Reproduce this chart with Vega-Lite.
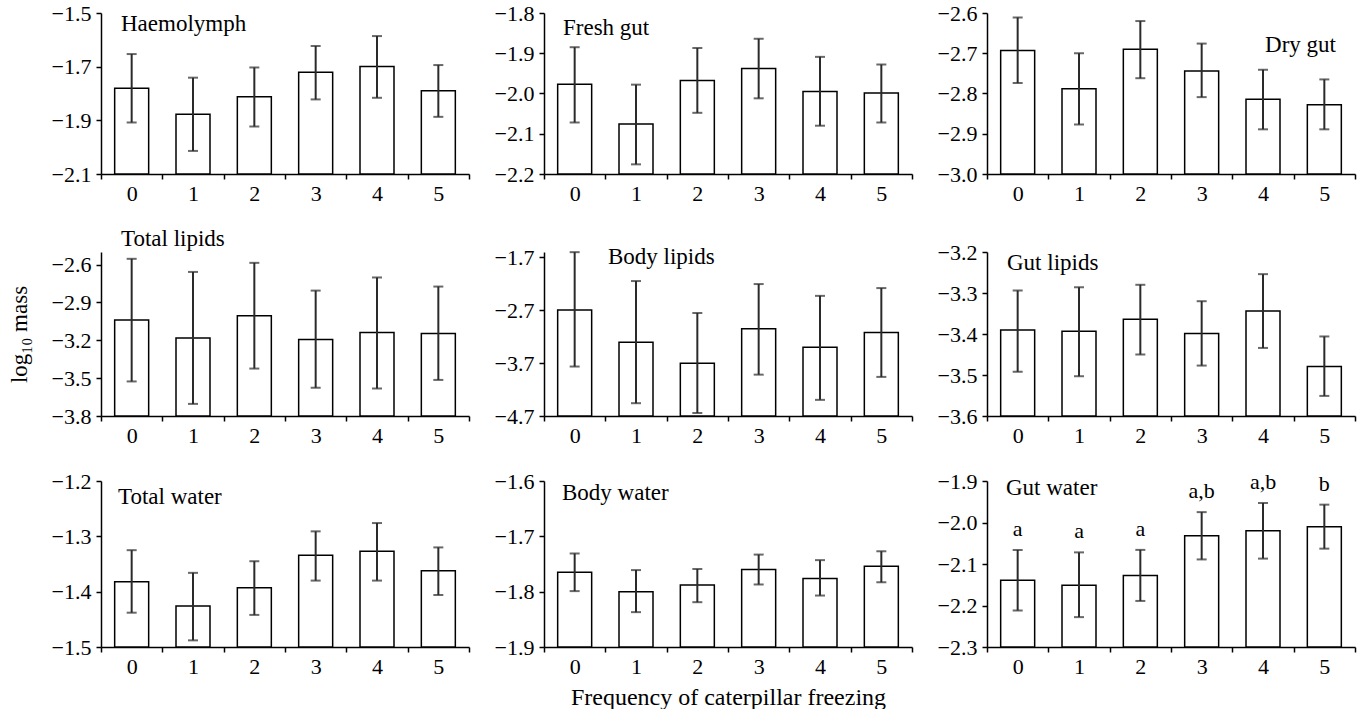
{
  "$schema": "https://vega.github.io/schema/vega-lite/v6.json",
  "padding": {"left": 8, "top": 2, "right": 5, "bottom": 0},
  "background": "white",
  "spacing": 24,
  "data": {"values": [
    {"panel": "Haemolymph", "freq": 0, "mean": -1.780, "lo": -1.908, "hi": -1.653, "letter": ""},
    {"panel": "Haemolymph", "freq": 1, "mean": -1.877, "lo": -2.014, "hi": -1.741, "letter": ""},
    {"panel": "Haemolymph", "freq": 2, "mean": -1.812, "lo": -1.923, "hi": -1.703, "letter": ""},
    {"panel": "Haemolymph", "freq": 3, "mean": -1.721, "lo": -1.822, "hi": -1.623, "letter": ""},
    {"panel": "Haemolymph", "freq": 4, "mean": -1.699, "lo": -1.816, "hi": -1.586, "letter": ""},
    {"panel": "Haemolymph", "freq": 5, "mean": -1.790, "lo": -1.887, "hi": -1.694, "letter": ""},
    {"panel": "Fresh gut", "freq": 0, "mean": -1.977, "lo": -2.072, "hi": -1.885, "letter": ""},
    {"panel": "Fresh gut", "freq": 1, "mean": -2.076, "lo": -2.176, "hi": -1.978, "letter": ""},
    {"panel": "Fresh gut", "freq": 2, "mean": -1.968, "lo": -2.048, "hi": -1.887, "letter": ""},
    {"panel": "Fresh gut", "freq": 3, "mean": -1.938, "lo": -2.012, "hi": -1.864, "letter": ""},
    {"panel": "Fresh gut", "freq": 4, "mean": -1.995, "lo": -2.080, "hi": -1.909, "letter": ""},
    {"panel": "Fresh gut", "freq": 5, "mean": -1.999, "lo": -2.072, "hi": -1.928, "letter": ""},
    {"panel": "Dry gut", "freq": 0, "mean": -2.693, "lo": -2.774, "hi": -2.611, "letter": ""},
    {"panel": "Dry gut", "freq": 1, "mean": -2.788, "lo": -2.877, "hi": -2.700, "letter": ""},
    {"panel": "Dry gut", "freq": 2, "mean": -2.690, "lo": -2.762, "hi": -2.620, "letter": ""},
    {"panel": "Dry gut", "freq": 3, "mean": -2.744, "lo": -2.809, "hi": -2.676, "letter": ""},
    {"panel": "Dry gut", "freq": 4, "mean": -2.814, "lo": -2.889, "hi": -2.741, "letter": ""},
    {"panel": "Dry gut", "freq": 5, "mean": -2.828, "lo": -2.889, "hi": -2.765, "letter": ""},
    {"panel": "Total lipids", "freq": 0, "mean": -3.040, "lo": -3.526, "hi": -2.554, "letter": ""},
    {"panel": "Total lipids", "freq": 1, "mean": -3.182, "lo": -3.704, "hi": -2.658, "letter": ""},
    {"panel": "Total lipids", "freq": 2, "mean": -3.006, "lo": -3.424, "hi": -2.586, "letter": ""},
    {"panel": "Total lipids", "freq": 3, "mean": -3.194, "lo": -3.576, "hi": -2.806, "letter": ""},
    {"panel": "Total lipids", "freq": 4, "mean": -3.138, "lo": -3.582, "hi": -2.702, "letter": ""},
    {"panel": "Total lipids", "freq": 5, "mean": -3.146, "lo": -3.514, "hi": -2.774, "letter": ""},
    {"panel": "Body lipids", "freq": 0, "mean": -2.696, "lo": -3.765, "hi": -1.603, "letter": ""},
    {"panel": "Body lipids", "freq": 1, "mean": -3.307, "lo": -4.458, "hi": -2.149, "letter": ""},
    {"panel": "Body lipids", "freq": 2, "mean": -3.702, "lo": -4.643, "hi": -2.753, "letter": ""},
    {"panel": "Body lipids", "freq": 3, "mean": -3.053, "lo": -3.918, "hi": -2.206, "letter": ""},
    {"panel": "Body lipids", "freq": 4, "mean": -3.402, "lo": -4.395, "hi": -2.429, "letter": ""},
    {"panel": "Body lipids", "freq": 5, "mean": -3.122, "lo": -3.961, "hi": -2.282, "letter": ""},
    {"panel": "Gut lipids", "freq": 0, "mean": -3.390, "lo": -3.492, "hi": -3.294, "letter": ""},
    {"panel": "Gut lipids", "freq": 1, "mean": -3.393, "lo": -3.503, "hi": -3.286, "letter": ""},
    {"panel": "Gut lipids", "freq": 2, "mean": -3.364, "lo": -3.450, "hi": -3.280, "letter": ""},
    {"panel": "Gut lipids", "freq": 3, "mean": -3.399, "lo": -3.477, "hi": -3.320, "letter": ""},
    {"panel": "Gut lipids", "freq": 4, "mean": -3.344, "lo": -3.434, "hi": -3.254, "letter": ""},
    {"panel": "Gut lipids", "freq": 5, "mean": -3.479, "lo": -3.551, "hi": -3.406, "letter": ""},
    {"panel": "Total water", "freq": 0, "mean": -1.382, "lo": -1.438, "hi": -1.325, "letter": ""},
    {"panel": "Total water", "freq": 1, "mean": -1.426, "lo": -1.488, "hi": -1.366, "letter": ""},
    {"panel": "Total water", "freq": 2, "mean": -1.393, "lo": -1.442, "hi": -1.345, "letter": ""},
    {"panel": "Total water", "freq": 3, "mean": -1.334, "lo": -1.380, "hi": -1.291, "letter": ""},
    {"panel": "Total water", "freq": 4, "mean": -1.327, "lo": -1.380, "hi": -1.276, "letter": ""},
    {"panel": "Total water", "freq": 5, "mean": -1.362, "lo": -1.406, "hi": -1.320, "letter": ""},
    {"panel": "Body water", "freq": 0, "mean": -1.765, "lo": -1.799, "hi": -1.731, "letter": ""},
    {"panel": "Body water", "freq": 1, "mean": -1.800, "lo": -1.837, "hi": -1.761, "letter": ""},
    {"panel": "Body water", "freq": 2, "mean": -1.788, "lo": -1.819, "hi": -1.759, "letter": ""},
    {"panel": "Body water", "freq": 3, "mean": -1.760, "lo": -1.787, "hi": -1.733, "letter": ""},
    {"panel": "Body water", "freq": 4, "mean": -1.776, "lo": -1.807, "hi": -1.743, "letter": ""},
    {"panel": "Body water", "freq": 5, "mean": -1.754, "lo": -1.783, "hi": -1.727, "letter": ""},
    {"panel": "Gut water", "freq": 0, "mean": -2.139, "lo": -2.212, "hi": -2.066, "letter": "a"},
    {"panel": "Gut water", "freq": 1, "mean": -2.151, "lo": -2.228, "hi": -2.072, "letter": "a"},
    {"panel": "Gut water", "freq": 2, "mean": -2.128, "lo": -2.189, "hi": -2.066, "letter": "a"},
    {"panel": "Gut water", "freq": 3, "mean": -2.032, "lo": -2.089, "hi": -1.975, "letter": "a,b"},
    {"panel": "Gut water", "freq": 4, "mean": -2.020, "lo": -2.087, "hi": -1.953, "letter": "a,b"},
    {"panel": "Gut water", "freq": 5, "mean": -2.010, "lo": -2.063, "hi": -1.957, "letter": "b"}
  ]},
  "vconcat": [
    {"spacing": 24, "hconcat": [
      {
        "width": 368, "height": 161,
        "title": {"text": "Haemolymph", "dx": 20, "dy": 38},
        "transform": [{"filter": "datum.panel === 'Haemolymph'"}],
        "encoding": {"x": {"field": "freq", "type": "ordinal", "title": null, "scale": {"paddingInner": 0, "paddingOuter": 0}}},
        "layer": [
          {"mark": {"type": "bar", "fill": "white", "stroke": "black", "strokeWidth": 1.5, "width": 34},
           "encoding": {"y": {"field": "mean", "type": "quantitative", "title": null, "scale": {"domain": [-2.1, -1.5], "zero": false, "nice": false}, "axis": {"values": [-2.1, -1.9, -1.7, -1.5]}}, "y2": {"datum": -2.1}}},
          {"mark": {"type": "rule", "strokeWidth": 2, "color": "#2a2a2a"},
           "encoding": {"y": {"field": "lo", "type": "quantitative"}, "y2": {"field": "hi"}}},
          {"mark": {"type": "tick", "orient": "horizontal", "size": 10, "thickness": 2, "color": "#2a2a2a"},
           "encoding": {"y": {"field": "lo", "type": "quantitative"}}},
          {"mark": {"type": "tick", "orient": "horizontal", "size": 10, "thickness": 2, "color": "#2a2a2a"},
           "encoding": {"y": {"field": "hi", "type": "quantitative"}}}
        ]
      },
      {
        "width": 368, "height": 161,
        "title": {"text": "Fresh gut", "dx": 19, "dy": 42},
        "transform": [{"filter": "datum.panel === 'Fresh gut'"}],
        "encoding": {"x": {"field": "freq", "type": "ordinal", "title": null, "scale": {"paddingInner": 0, "paddingOuter": 0}}},
        "layer": [
          {"mark": {"type": "bar", "fill": "white", "stroke": "black", "strokeWidth": 1.5, "width": 34},
           "encoding": {"y": {"field": "mean", "type": "quantitative", "title": null, "scale": {"domain": [-2.2, -1.8], "zero": false, "nice": false}, "axis": {"values": [-2.2, -2.1, -2.0, -1.9, -1.8]}}, "y2": {"datum": -2.2}}},
          {"mark": {"type": "rule", "strokeWidth": 2, "color": "#2a2a2a"},
           "encoding": {"y": {"field": "lo", "type": "quantitative"}, "y2": {"field": "hi"}}},
          {"mark": {"type": "tick", "orient": "horizontal", "size": 10, "thickness": 2, "color": "#2a2a2a"},
           "encoding": {"y": {"field": "lo", "type": "quantitative"}}},
          {"mark": {"type": "tick", "orient": "horizontal", "size": 10, "thickness": 2, "color": "#2a2a2a"},
           "encoding": {"y": {"field": "hi", "type": "quantitative"}}}
        ]
      },
      {
        "width": 368, "height": 161,
        "title": {"text": "Dry gut", "anchor": "end", "dx": -19, "dy": 59},
        "transform": [{"filter": "datum.panel === 'Dry gut'"}],
        "encoding": {"x": {"field": "freq", "type": "ordinal", "title": null, "scale": {"paddingInner": 0, "paddingOuter": 0}}},
        "layer": [
          {"mark": {"type": "bar", "fill": "white", "stroke": "black", "strokeWidth": 1.5, "width": 34},
           "encoding": {"y": {"field": "mean", "type": "quantitative", "title": null, "scale": {"domain": [-3.0, -2.6], "zero": false, "nice": false}, "axis": {"values": [-3.0, -2.9, -2.8, -2.7, -2.6]}}, "y2": {"datum": -3.0}}},
          {"mark": {"type": "rule", "strokeWidth": 2, "color": "#2a2a2a"},
           "encoding": {"y": {"field": "lo", "type": "quantitative"}, "y2": {"field": "hi"}}},
          {"mark": {"type": "tick", "orient": "horizontal", "size": 10, "thickness": 2, "color": "#2a2a2a"},
           "encoding": {"y": {"field": "lo", "type": "quantitative"}}},
          {"mark": {"type": "tick", "orient": "horizontal", "size": 10, "thickness": 2, "color": "#2a2a2a"},
           "encoding": {"y": {"field": "hi", "type": "quantitative"}}}
        ]
      }
    ]},
    {"spacing": 24, "hconcat": [
      {
        "width": 368, "height": 164,
        "title": {"text": "Total lipids", "dx": 20, "dy": 3},
        "transform": [{"filter": "datum.panel === 'Total lipids'"}],
        "encoding": {"x": {"field": "freq", "type": "ordinal", "title": null, "scale": {"paddingInner": 0, "paddingOuter": 0}}},
        "layer": [
          {"mark": {"type": "bar", "fill": "white", "stroke": "black", "strokeWidth": 1.5, "width": 34},
           "encoding": {"y": {"field": "mean", "type": "quantitative", "title": "log₁₀ mass", "scale": {"domain": [-3.8, -2.5], "zero": false, "nice": false}, "axis": {"values": [-3.8, -3.5, -3.2, -2.9, -2.6], "titlePadding": 20}}, "y2": {"datum": -3.8}}},
          {"mark": {"type": "rule", "strokeWidth": 2, "color": "#2a2a2a"},
           "encoding": {"y": {"field": "lo", "type": "quantitative"}, "y2": {"field": "hi"}}},
          {"mark": {"type": "tick", "orient": "horizontal", "size": 10, "thickness": 2, "color": "#2a2a2a"},
           "encoding": {"y": {"field": "lo", "type": "quantitative"}}},
          {"mark": {"type": "tick", "orient": "horizontal", "size": 10, "thickness": 2, "color": "#2a2a2a"},
           "encoding": {"y": {"field": "hi", "type": "quantitative"}}}
        ]
      },
      {
        "width": 368, "height": 164,
        "title": {"text": "Body lipids", "dx": 64, "dy": 27},
        "transform": [{"filter": "datum.panel === 'Body lipids'"}],
        "encoding": {"x": {"field": "freq", "type": "ordinal", "title": null, "scale": {"paddingInner": 0, "paddingOuter": 0}}},
        "layer": [
          {"mark": {"type": "bar", "fill": "white", "stroke": "black", "strokeWidth": 1.5, "width": 34},
           "encoding": {"y": {"field": "mean", "type": "quantitative", "title": null, "scale": {"domain": [-4.7, -1.6], "zero": false, "nice": false}, "axis": {"values": [-4.7, -3.7, -2.7, -1.7]}}, "y2": {"datum": -4.7}}},
          {"mark": {"type": "rule", "strokeWidth": 2, "color": "#2a2a2a"},
           "encoding": {"y": {"field": "lo", "type": "quantitative"}, "y2": {"field": "hi"}}},
          {"mark": {"type": "tick", "orient": "horizontal", "size": 10, "thickness": 2, "color": "#2a2a2a"},
           "encoding": {"y": {"field": "lo", "type": "quantitative"}}},
          {"mark": {"type": "tick", "orient": "horizontal", "size": 10, "thickness": 2, "color": "#2a2a2a"},
           "encoding": {"y": {"field": "hi", "type": "quantitative"}}}
        ]
      },
      {
        "width": 368, "height": 164,
        "title": {"text": "Gut lipids", "dx": 20, "dy": 38},
        "transform": [{"filter": "datum.panel === 'Gut lipids'"}],
        "encoding": {"x": {"field": "freq", "type": "ordinal", "title": null, "scale": {"paddingInner": 0, "paddingOuter": 0}}},
        "layer": [
          {"mark": {"type": "bar", "fill": "white", "stroke": "black", "strokeWidth": 1.5, "width": 34},
           "encoding": {"y": {"field": "mean", "type": "quantitative", "title": null, "scale": {"domain": [-3.6, -3.2], "zero": false, "nice": false}, "axis": {"values": [-3.6, -3.5, -3.4, -3.3, -3.2]}}, "y2": {"datum": -3.6}}},
          {"mark": {"type": "rule", "strokeWidth": 2, "color": "#2a2a2a"},
           "encoding": {"y": {"field": "lo", "type": "quantitative"}, "y2": {"field": "hi"}}},
          {"mark": {"type": "tick", "orient": "horizontal", "size": 10, "thickness": 2, "color": "#2a2a2a"},
           "encoding": {"y": {"field": "lo", "type": "quantitative"}}},
          {"mark": {"type": "tick", "orient": "horizontal", "size": 10, "thickness": 2, "color": "#2a2a2a"},
           "encoding": {"y": {"field": "hi", "type": "quantitative"}}}
        ]
      }
    ]},
    {"spacing": 24, "hconcat": [
      {
        "width": 368, "height": 166,
        "title": {"text": "Total water", "dx": 17, "dy": 43},
        "transform": [{"filter": "datum.panel === 'Total water'"}],
        "encoding": {"x": {"field": "freq", "type": "ordinal", "title": null, "scale": {"paddingInner": 0, "paddingOuter": 0}}},
        "layer": [
          {"mark": {"type": "bar", "fill": "white", "stroke": "black", "strokeWidth": 1.5, "width": 34},
           "encoding": {"y": {"field": "mean", "type": "quantitative", "title": null, "scale": {"domain": [-1.5, -1.2], "zero": false, "nice": false}, "axis": {"values": [-1.5, -1.4, -1.3, -1.2]}}, "y2": {"datum": -1.5}}},
          {"mark": {"type": "rule", "strokeWidth": 2, "color": "#2a2a2a"},
           "encoding": {"y": {"field": "lo", "type": "quantitative"}, "y2": {"field": "hi"}}},
          {"mark": {"type": "tick", "orient": "horizontal", "size": 10, "thickness": 2, "color": "#2a2a2a"},
           "encoding": {"y": {"field": "lo", "type": "quantitative"}}},
          {"mark": {"type": "tick", "orient": "horizontal", "size": 10, "thickness": 2, "color": "#2a2a2a"},
           "encoding": {"y": {"field": "hi", "type": "quantitative"}}}
        ]
      },
      {
        "width": 368, "height": 166,
        "title": {"text": "Body water", "dx": 18, "dy": 39},
        "transform": [{"filter": "datum.panel === 'Body water'"}],
        "encoding": {"x": {"field": "freq", "type": "ordinal", "title": "Frequency of caterpillar freezing", "scale": {"paddingInner": 0, "paddingOuter": 0}}},
        "layer": [
          {"mark": {"type": "bar", "fill": "white", "stroke": "black", "strokeWidth": 1.5, "width": 34},
           "encoding": {"y": {"field": "mean", "type": "quantitative", "title": null, "scale": {"domain": [-1.9, -1.6], "zero": false, "nice": false}, "axis": {"values": [-1.9, -1.8, -1.7, -1.6]}}, "y2": {"datum": -1.9}}},
          {"mark": {"type": "rule", "strokeWidth": 2, "color": "#2a2a2a"},
           "encoding": {"y": {"field": "lo", "type": "quantitative"}, "y2": {"field": "hi"}}},
          {"mark": {"type": "tick", "orient": "horizontal", "size": 10, "thickness": 2, "color": "#2a2a2a"},
           "encoding": {"y": {"field": "lo", "type": "quantitative"}}},
          {"mark": {"type": "tick", "orient": "horizontal", "size": 10, "thickness": 2, "color": "#2a2a2a"},
           "encoding": {"y": {"field": "hi", "type": "quantitative"}}}
        ]
      },
      {
        "width": 368, "height": 166,
        "title": {"text": "Gut water", "dx": 19, "dy": 34},
        "transform": [{"filter": "datum.panel === 'Gut water'"}],
        "encoding": {"x": {"field": "freq", "type": "ordinal", "title": null, "scale": {"paddingInner": 0, "paddingOuter": 0}}},
        "layer": [
          {"mark": {"type": "bar", "fill": "white", "stroke": "black", "strokeWidth": 1.5, "width": 34},
           "encoding": {"y": {"field": "mean", "type": "quantitative", "title": null, "scale": {"domain": [-2.3, -1.9], "zero": false, "nice": false}, "axis": {"values": [-2.3, -2.2, -2.1, -2.0, -1.9]}}, "y2": {"datum": -2.3}}},
          {"mark": {"type": "rule", "strokeWidth": 2, "color": "#2a2a2a"},
           "encoding": {"y": {"field": "lo", "type": "quantitative"}, "y2": {"field": "hi"}}},
          {"mark": {"type": "tick", "orient": "horizontal", "size": 10, "thickness": 2, "color": "#2a2a2a"},
           "encoding": {"y": {"field": "lo", "type": "quantitative"}}},
          {"mark": {"type": "tick", "orient": "horizontal", "size": 10, "thickness": 2, "color": "#2a2a2a"},
           "encoding": {"y": {"field": "hi", "type": "quantitative"}}},
          {"mark": {"type": "text", "dy": -14, "baseline": "alphabetic", "font": "Liberation Serif", "fontSize": 22, "color": "black"},
           "encoding": {"y": {"field": "hi", "type": "quantitative"}, "text": {"field": "letter"}}}
        ]
      }
    ]}
  ],
  "config": {
    "font": "Liberation Serif",
    "view": {"stroke": null},
    "style": {
      "guide-label": {"font": "Liberation Serif", "fontSize": 22, "fill": "black"},
      "guide-title": {"font": "Liberation Serif", "fontSize": 23, "fontWeight": "normal", "fill": "black"}
    },
    "title": {"font": "Liberation Serif", "fontSize": 23, "fontWeight": "normal", "anchor": "start", "frame": "group", "baseline": "alphabetic", "offset": 0, "color": "black"},
    "axis": {
      "grid": false,
      "domainColor": "black", "domainWidth": 1.5,
      "tickColor": "black", "tickWidth": 1.5, "tickSize": 5,
      "labelFont": "Liberation Serif", "labelFontSize": 22, "labelColor": "black",
      "titleFont": "Liberation Serif", "titleFontSize": 23, "titleFontWeight": "normal", "titleColor": "black"
    },
    "axisX": {"tickBand": "extent", "labelAngle": 0, "labelPadding": 4, "titlePadding": 8, "labelFont": "Liberation Serif", "titleFont": "Liberation Serif", "titleFontSize": 24},
    "axisY": {"format": ".1f", "labelPadding": 5, "labelFont": "Liberation Serif", "titleFont": "Liberation Serif"}
  }
}
